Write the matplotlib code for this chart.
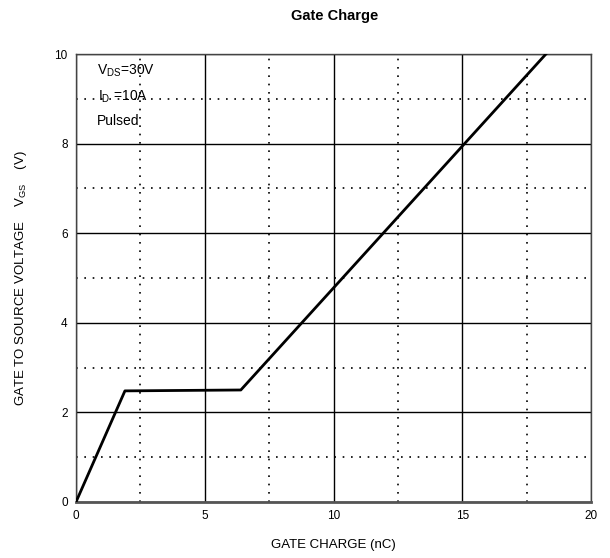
import matplotlib
matplotlib.use("Agg")
import matplotlib.pyplot as plt
from matplotlib.ticker import MultipleLocator

plt.rcParams['font.family'] = ['Liberation Sans', 'DejaVu Sans']
plt.rcParams['mathtext.fontset'] = 'custom'
plt.rcParams['mathtext.rm'] = 'Liberation Sans'
plt.rcParams['mathtext.it'] = 'Liberation Sans'

# gate charge curve (nC, V)
charge_nc = [0.0, 1.9, 6.4, 18.25]
vgs_v = [0.0, 2.48, 2.5, 10.0]

x_ticks = [0, 5, 10, 15, 20]
y_ticks = [0, 2, 4, 6, 8, 10]

fig = plt.figure(figsize=(6.1, 5.58), dpi=100)
ax = fig.add_axes([0.1246, 0.1004, 0.8443, 0.8028])

ax.set_xlim(0, 20)
ax.set_ylim(0, 10)
ax.set_xticks(x_ticks)
ax.set_yticks(y_ticks)
ax.xaxis.set_minor_locator(MultipleLocator(2.5))
ax.yaxis.set_minor_locator(MultipleLocator(1))
ax.tick_params(which='both', length=0, labelsize=8.5, pad=6)

ax.grid(which='major', color='black', linewidth=1.0, linestyle='-')
ax.grid(which='minor', color='black', linewidth=1.2, linestyle=(0, (1, 4)))
ax.set_axisbelow(True)

for side in ['top', 'right', 'left']:
    ax.spines[side].set_color('#444444')
    ax.spines[side].set_linewidth(1.0)
ax.spines['bottom'].set_color('#555555')
ax.spines['bottom'].set_linewidth(2.0)

ax.plot(charge_nc, vgs_v, color='black', linewidth=2.0, zorder=3)

ax.set_xlabel('GATE CHARGE (nC)', fontsize=9.5, labelpad=12)
ax.set_ylabel(r'GATE TO SOURCE VOLTAGE    V$_{\mathrm{GS}}$    (V)', fontsize=9.5, labelpad=18)
fig.text(0.549, 0.972, 'Gate Charge', ha='center', va='center',
         fontsize=10.5, fontweight='bold')

ax.text(0.8, 9.62, r'V$_{\mathrm{DS}}$=30V', fontsize=10, va='center', ha='left')
ax.text(0.85, 9.05, r'I$_{\mathrm{D}}$ =10A', fontsize=10, va='center', ha='left')
ax.text(0.8, 8.5, 'Pulsed', fontsize=10, va='center', ha='left')

fig.savefig('out.png', dpi=100)
